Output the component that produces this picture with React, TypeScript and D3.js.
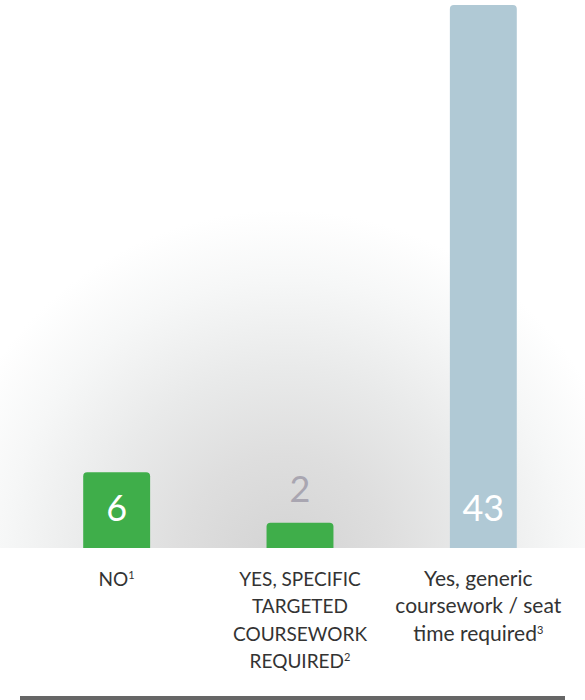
import React from "react";
import * as d3 from "d3";

const categories = ["no", "specific", "generic"];
const values = [6, 2, 43];
const labelLines: string[][] = [
  ["NO"],
  ["YES, SPECIFIC", "TARGETED", "COURSEWORK", "REQUIRED"],
  ["Yes, generic", "coursework / seat", "time required"],
];
const footnotes = ["1", "2", "3"];
const barColors = ["#3fae4a", "#3fae4a", "#b0c9d5"];
const valueColors = ["#ffffff", "#a9a6b1", "#ffffff"];
const valueInside = [true, false, true];
const labelSizes = [19, 19, 21];

const W = 585;
const H = 700;
const baseY = 548;

export default function App() {
  const x = d3.scaleBand<string>().domain(categories).range([25, 575]).paddingInner(0.635).paddingOuter(0.3175);
  const y = d3.scaleLinear().domain([0, 43]).range([baseY, 5]);
  const bw = x.bandwidth();
  const r = 4;

  const barPath = (x0: number, y0: number, w: number, h: number) => {
    const p = d3.path();
    p.moveTo(x0, y0 + h);
    p.lineTo(x0, y0 + r);
    p.arcTo(x0, y0, x0 + r, y0, r);
    p.lineTo(x0 + w - r, y0);
    p.arcTo(x0 + w, y0, x0 + w, y0 + r, r);
    p.lineTo(x0 + w, y0 + h);
    p.closePath();
    return p.toString();
  };

  return (
    <svg
      width={W}
      height={H}
      style={{ position: "absolute", left: 0, top: 0, background: "#fff" }}
      fontFamily="Lato, 'Open Sans', sans-serif"
    >
      <defs>
        <radialGradient id="glow" gradientUnits="userSpaceOnUse" cx={285} cy={560} r={350}>
          <stop offset="0" stopColor="#d3d3d3" />
          <stop offset="0.3" stopColor="#dedede" />
          <stop offset="0.55" stopColor="#e9eaea" />
          <stop offset="0.8" stopColor="#f6f7f7" />
          <stop offset="1" stopColor="#ffffff" />
        </radialGradient>
        <clipPath id="above">
          <rect x={0} y={0} width={W} height={baseY} />
        </clipPath>
      </defs>
      <rect x={0} y={0} width={W} height={baseY} fill="url(#glow)" clipPath="url(#above)" />
      {categories.map((c, i) => {
        const x0 = x(c)!;
        const y0 = y(values[i]);
        const cx = x0 + bw / 2;
        const tx = i === 2 ? cx - 5 : cx;
        return (
          <g key={c}>
            <path d={barPath(x0, y0, bw, baseY - y0)} fill={barColors[i]} />
            <text
              x={cx}
              y={valueInside[i] ? 521 : y0 - 21}
              textAnchor="middle"
              fontSize={36}
              fontWeight={400}
              fill={valueColors[i]}
            >
              {values[i]}
            </text>
            <text textAnchor="middle" fontSize={labelSizes[i]} fill="#333">
              {labelLines[i].map((ln, j) => (
                <tspan key={j} x={tx} y={586 + j * 27.3}>
                  {ln}
                  {j === labelLines[i].length - 1 ? (
                    <tspan fontSize={11} dy={-7}>
                      {footnotes[i]}
                    </tspan>
                  ) : null}
                </tspan>
              ))}
            </text>
          </g>
        );
      })}
      <rect x={20} y={696} width={545} height={4} fill="#666666" />
    </svg>
  );
}
